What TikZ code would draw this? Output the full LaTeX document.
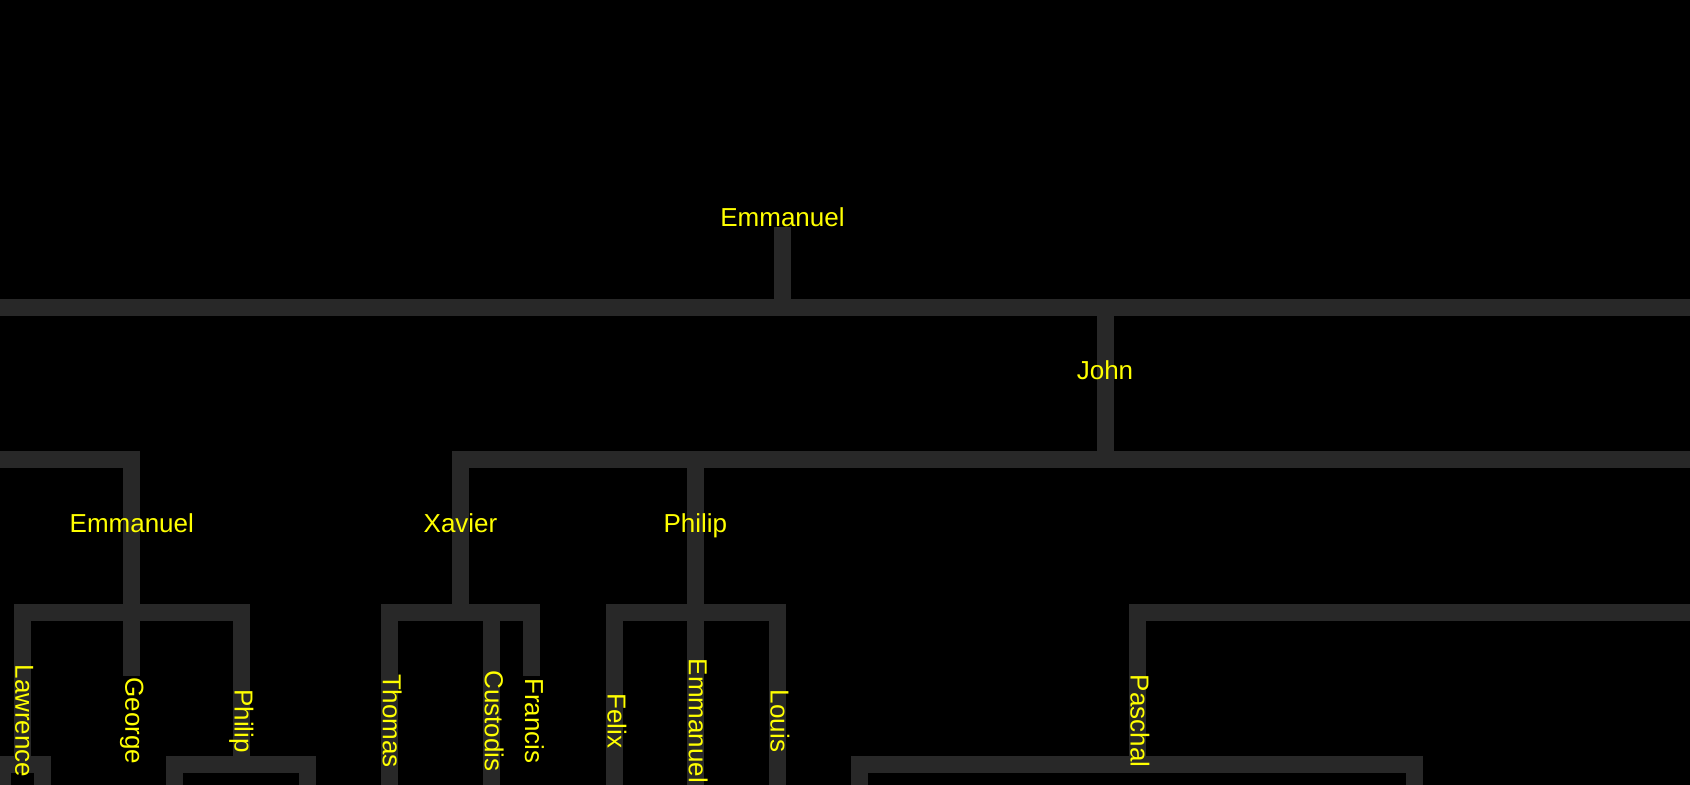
\documentclass[tikz,border=0pt]{standalone}
\usepackage{fontspec}
\setmainfont{Liberation Sans}
\usetikzlibrary{calc}
\definecolor{linkgray}{HTML}{282828}
\definecolor{namecol}{HTML}{FFFF00}

% elbow connector: parent -> bar level -> child
\newcommand\elbow[3]{\draw[link] (#1) -- (#1 |- #3) -- (#2 |- #3) -- (#2);}

\begin{document}
\begin{tikzpicture}[x=0.5pt,y=-0.5pt,
  link/.style={draw=linkgray,line width=8.5pt,line join=miter,line cap=butt},
  hname/.style={text=namecol,font=\fontsize{13}{15}\selectfont,anchor=base,inner sep=0pt,yshift=-4.5pt},
  vname/.style={text=namecol,font=\fontsize{13}{15}\selectfont,anchor=base,inner sep=0pt,rotate=-90},
]
\fill[black] (0,0) rectangle (1690,785);
\useasboundingbox (0,0) rectangle (1690,785);
\clip (0,0) rectangle (1690,785);

% levels of the horizontal bars
\coordinate (bar1) at (0,308);
\coordinate (bar2) at (0,459.5);
\coordinate (bar3) at (0,612.7);
\coordinate (bar4) at (0,764);

% depth 0
\coordinate (root) at (782.5,218);
\coordinate (rootfoot) at (782.5,227);
% depth 1
\coordinate (d1a) at (-40,370.7);
\coordinate (john) at (1105,370.7);
\coordinate (d1c) at (1760,370.7);
% depth 2
\coordinate (emm2) at (131.8,523);
\coordinate (xavier) at (460.5,523);
\coordinate (philip2) at (695.4,523);
\coordinate (d2r) at (1780,523);
% depth 3
\coordinate (lawrence) at (22,676);
\coordinate (george) at (131.8,676);
\coordinate (philip3) at (241.2,676);
\coordinate (thomas) at (389.3,676);
\coordinate (custodis) at (491.4,676);
\coordinate (francis) at (531.6,676);
\coordinate (felix) at (614,676);
\coordinate (emm3) at (695.4,676);
\coordinate (louis) at (777,676);
\coordinate (paschal) at (1137,676);
\coordinate (d3r) at (1800,676);
% depth 4, below the frame
\coordinate (lawA) at (2,830);
\coordinate (lawB) at (42.4,830);
\coordinate (phiA) at (174.7,830);
\coordinate (phiB) at (307.5,830);
\coordinate (thoA) at (389.3,830);
\coordinate (cusA) at (491.4,830);
\coordinate (felA) at (614,830);
\coordinate (emmA) at (695.4,830);
\coordinate (louA) at (777,830);
\coordinate (pasA) at (859,830);
\coordinate (pasB) at (1414,830);

% connectors
\elbow{rootfoot}{d1a}{bar1}
\elbow{rootfoot}{john}{bar1}
\elbow{rootfoot}{d1c}{bar1}

\elbow{d1a}{emm2}{bar2}
\elbow{john}{xavier}{bar2}
\elbow{john}{philip2}{bar2}
\elbow{john}{d2r}{bar2}

\elbow{emm2}{lawrence}{bar3}
\draw[link] (emm2) -- (george);
\elbow{emm2}{philip3}{bar3}
\elbow{xavier}{thomas}{bar3}
\elbow{xavier}{custodis}{bar3}
\elbow{xavier}{francis}{bar3}
\elbow{philip2}{felix}{bar3}
\draw[link] (philip2) -- (emm3);
\elbow{philip2}{louis}{bar3}
\elbow{d2r}{paschal}{bar3}
\elbow{d2r}{d3r}{bar3}

\elbow{lawrence}{lawA}{bar4}
\elbow{lawrence}{lawB}{bar4}
\elbow{philip3}{phiA}{bar4}
\elbow{philip3}{phiB}{bar4}
\draw[link] (thomas) -- (thoA);
\draw[link] (custodis) -- (cusA);
\draw[link] (felix) -- (felA);
\draw[link] (emm3) -- (emmA);
\draw[link] (louis) -- (louA);
\elbow{paschal}{pasA}{bar4}
\elbow{paschal}{pasB}{bar4}

% names
\node[hname] (root-n) at (root) {Emmanuel};
\node[hname] (john-n) at (john) {John};
\node[hname] (emm2-n) at (emm2) {Emmanuel};
\node[hname] (xavier-n) at (xavier) {Xavier};
\node[hname] (philip2-n) at (philip2) {Philip};

\node[vname] (lawrence-n) at ($(lawrence)+(-6.5,45)$) {Lawrence};
\node[vname] (george-n) at ($(george)+(-6.5,45)$) {George};
\node[vname] (philip3-n) at ($(philip3)+(-6.5,45)$) {Philip};
\node[vname] (thomas-n) at ($(thomas)+(-6.5,45)$) {Thomas};
\node[vname] (custodis-n) at ($(custodis)+(-6.5,45)$) {Custodis};
\node[vname] (francis-n) at ($(francis)+(-6.5,45)$) {Francis};
\node[vname] (felix-n) at ($(felix)+(-6.5,45)$) {Felix};
\node[vname] (emm3-n) at ($(emm3)+(-6.5,45)$) {Emmanuel};
\node[vname] (louis-n) at ($(louis)+(-6.5,45)$) {Louis};
\node[vname] (paschal-n) at ($(paschal)+(-6.5,45)$) {Paschal};
\end{tikzpicture}
\end{document}
